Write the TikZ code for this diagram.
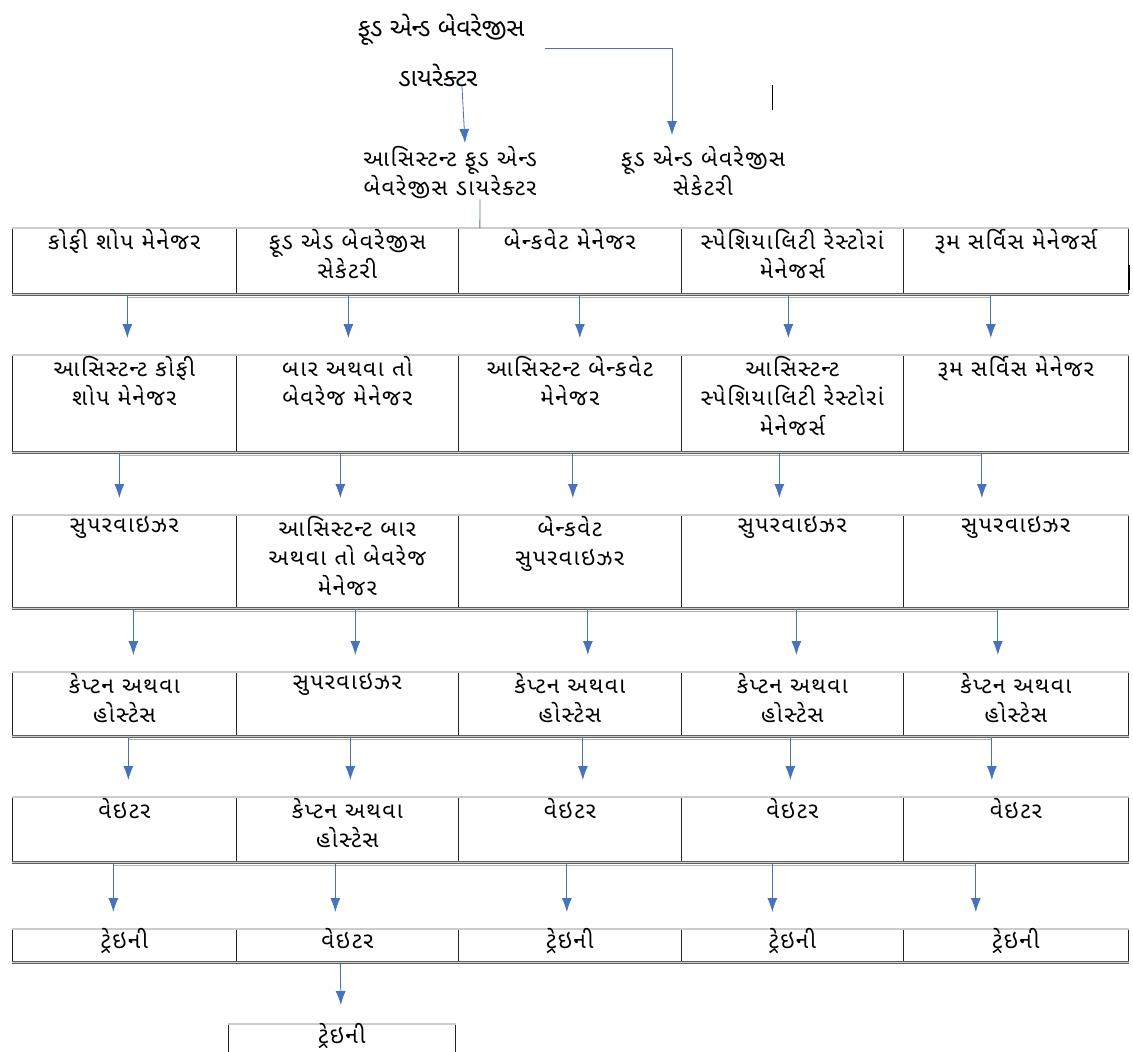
\documentclass[tikz,border=0pt]{standalone}
\usepackage{fontspec}
\newfontfamily\guj[Script=Gujarati]{Noto Sans Gujarati UI}
\newfontfamily\gujwide[Script=Gujarati,LetterSpace=7]{Noto Sans Gujarati UI}
\usetikzlibrary{positioning,arrows.meta}
\definecolor{arrowblue}{HTML}{4472C4}
\tikzset{>={Latex[length=14pt,width=10pt]}}
\tikzset{
  cell/.style = {draw=black!85, line width=0.7pt, anchor=north west, inner sep=0pt},
  txt/.style = {font=\gujwide\fontsize{22.5}{29.5}\selectfont, align=center, anchor=north, inner sep=0pt},
  title/.style = {font=\guj\fontsize{25}{28}\selectfont, inner sep=0pt},
  rule/.style = {draw=gray!75!black, double=gray!40, double distance=1.4pt, line width=0.6pt},
  bar/.style = {draw=gray!60, line width=1.5pt},
  arr/.style = {->, draw=arrowblue, line width=0.8pt},
  link/.style = {draw=arrowblue, line width=0.8pt}
}

\begin{document}
\begin{tikzpicture}[x=1pt,y=-1pt]
  \useasboundingbox (0,0) rectangle (1133,1052);
  % heads
  \node[title] (dir1) at (441,30) {ફૂડ એન્ડ બેવરેજીસ};
  \node[title] (dir2) at (438,75) {ડાયરેક્ટર};
  \node[txt] (asst) at (450,146) {આસિસ્ટન્ટ ફૂડ એન્ડ\\બેવરેજીસ ડાયરેક્ટર};
  \node[txt] (sec) at (703,146) {ફૂડ એન્ડ બેવરેજીસ\\સેકેટરી};
  \draw[arr] ([xshift=24pt]dir2.south) -- ([xshift=15pt,yshift=3pt]asst.north);
  \draw[arr] ([xshift=20pt,yshift=-18pt]dir1.east) -| ([xshift=-31pt,yshift=11pt]sec.north);
  \draw[black, line width=1pt] (772,85) -- (772,110);
  % table rows
  \foreach \r/\top/\h in {1/228/66, 2/355/97, 3/515/93, 4/672/64, 5/797/65, 6/929/33} {
    \foreach \c/\x/\w in {1/12/224, 2/236/222, 3/458/223, 4/681/222, 5/903/225}
      \node[cell, minimum width=\w, minimum height=\h] (c\r\c) at (\x,\top) {};
    \draw[rule] (c\r1.north west) -- (c\r5.north east);
    \draw[rule] (c\r1.south west) -- (c\r5.south east);
  }
  \node[cell, minimum width=227, minimum height=40] (c7) at (228,1024) {};
  \draw[rule] (c7.north west) -- (c7.north east);
  \draw[link] ([xshift=30pt]asst.south) -- ([xshift=-90pt]c13.north);
  \draw[black, line width=1.2pt] (1129,265) -- (1129,290);
  % texts
  \foreach \c/\t in {1/{કોફી શોપ મેનેજર}, 2/{ફૂડ એડ બેવરેજીસ\\સેકેટરી}, 3/{બેન્કવેટ મેનેજર},
                     4/{સ્પેશિયાલિટી રેસ્ટોરાં\\મેનેજર્સ}, 5/{રૂમ સર્વિસ મેનેજર્સ}}
    \node[txt] (t1\c) at ([yshift=-1pt]c1\c.north) {\t};
  \foreach \c/\t in {1/{આસિસ્ટન્ટ કોફી\\શોપ મેનેજર}, 2/{બાર અથવા તો\\બેવરેજ મેનેજર},
                     3/{આસિસ્ટન્ટ બેન્કવેટ\\મેનેજર}, 4/{આસિસ્ટન્ટ\\સ્પેશિયાલિટી રેસ્ટોરાં\\મેનેજર્સ},
                     5/{રૂમ સર્વિસ મેનેજર}}
    \node[txt] (t2\c) at ([yshift=-1pt]c2\c.north) {\t};
  \foreach \c/\t in {1/{સુપરવાઇઝર}, 2/{આસિસ્ટન્ટ બાર\\અથવા તો બેવરેજ\\મેનેજર},
                     3/{બેન્કવેટ\\સુપરવાઇઝર}, 4/{સુપરવાઇઝર}, 5/{સુપરવાઇઝર}}
    \node[txt] (t3\c) at ([yshift=-1pt]c3\c.north) {\t};
  \foreach \c/\t in {1/{કેપ્ટન અથવા\\હોસ્ટેસ}, 2/{સુપરવાઇઝર}, 3/{કેપ્ટન અથવા\\હોસ્ટેસ},
                     4/{કેપ્ટન અથવા\\હોસ્ટેસ}, 5/{કેપ્ટન અથવા\\હોસ્ટેસ}}
    \node[txt] (t4\c) at ([yshift=-1pt]c4\c.north) {\t};
  \foreach \c/\t in {1/{વેઇટર}, 2/{કેપ્ટન અથવા\\હોસ્ટેસ}, 3/{વેઇટર}, 4/{વેઇટર}, 5/{વેઇટર}}
    \node[txt] (t5\c) at ([yshift=-1pt]c5\c.north) {\t};
  \foreach \c/\t in {1/{ટ્રેઇની}, 2/{વેઇટર}, 3/{ટ્રેઇની}, 4/{ટ્રેઇની}, 5/{ટ્રેઇની}}
    \node[txt] (t6\c) at ([yshift=1pt]c6\c.north) {\t};
  \node[txt] (t7) at ([yshift=1pt]c7.north) {ટ્રેઇની};
  % arrows between rows
  \foreach \r/\n/\a/\b/\cc/\d/\e in {1/2/3/1/10/-4/-25, 2/3/-5/-7/3/-13/-34, 3/4/9/8/18/4/-18,
                                     4/5/4/3/13/-2/-24, 5/6/-11/-12/-3/-20/-40} {
    \draw[bar] ([xshift=\a,yshift=-3pt]c\r1.south) -- ([xshift=\e,yshift=-3pt]c\r5.south);
    \draw[arr] ([xshift=\a]c\r1.south) -- ([xshift=\a,yshift=17pt]c\n1.north);
    \draw[arr] ([xshift=\b]c\r2.south) -- ([xshift=\b,yshift=17pt]c\n2.north);
    \draw[arr] ([xshift=\cc]c\r3.south) -- ([xshift=\cc,yshift=17pt]c\n3.north);
    \draw[arr] ([xshift=\d]c\r4.south) -- ([xshift=\d,yshift=17pt]c\n4.north);
    \draw[arr] ([xshift=\e]c\r5.south) -- ([xshift=\e,yshift=17pt]c\n5.north);
  }
  \draw[arr] ([xshift=-7pt]c62.south) -- ([xshift=-1pt,yshift=19pt]c7.north);
\end{tikzpicture}
\end{document}
